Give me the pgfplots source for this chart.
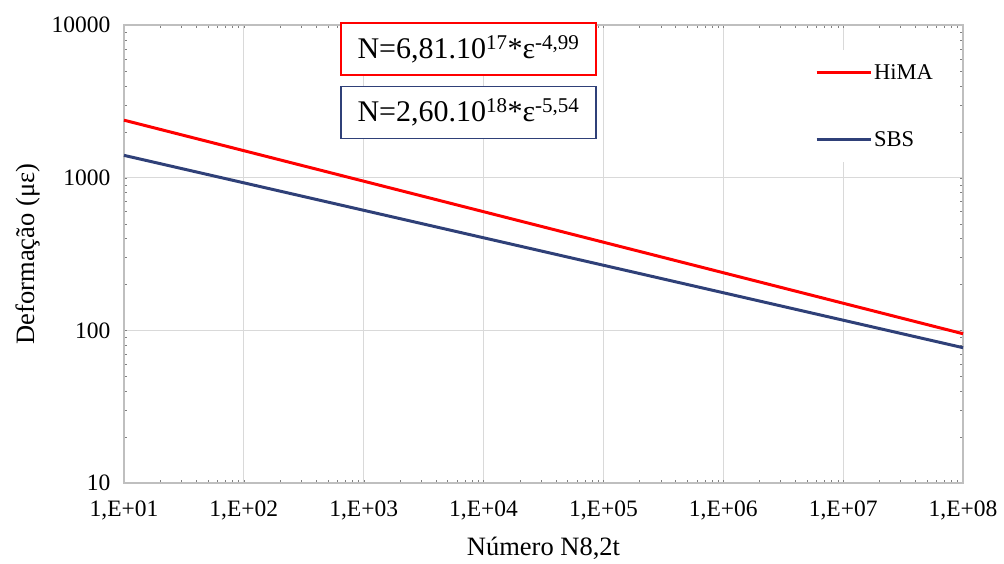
\documentclass[border=0pt]{standalone}
\usepackage{fontspec}
\setmainfont{Liberation Serif}
\usepackage{pgfplots}
\pgfplotsset{compat=1.18}
\definecolor{himared}{RGB}{255,0,0}
\definecolor{sbsblue}{RGB}{47,64,120}
\definecolor{gridgray}{RGB}{217,217,217}
\definecolor{axgray}{RGB}{191,191,191}
\newcommand{\tickfont}{\fontsize{23.5}{27}\selectfont}
\newcommand{\labfont}{\fontsize{26.5}{30}\selectfont}
\newcommand{\legfont}{\fontsize{22.5}{26}\selectfont}
\newcommand{\eqfont}{\fontsize{30}{34}\selectfont}
\begin{document}
\begin{tikzpicture}
\useasboundingbox (-124pt,-80pt) rectangle (880pt,483pt);
\begin{axis}[
scale only axis,
width=839pt,
height=458pt,
clip=false,
xmode=log, ymode=log,
xmin=10, xmax=1e8,
ymin=10, ymax=10000,
xtick={1e1,1e2,1e3,1e4,1e5,1e6,1e7,1e8},
xticklabels={{1,E+01},{1,E+02},{1,E+03},{1,E+04},{1,E+05},{1,E+06},{1,E+07},{1,E+08}},
ytick={10,100,1000,10000},
yticklabels={10,100,1000,10000},
minor xtick={}, minor ytick={},
major tick length=0pt,
tick label style={font=\tickfont},
xticklabel style={yshift=-14pt},
yticklabel style={xshift=-10pt},
grid=major,
major grid style={draw=gridgray, line width=1.2pt},
axis line style={draw=axgray, line width=1.2pt},
xlabel={Número N8,2t},
ylabel={Deformação (με)},
label style={font=\labfont},
xlabel style={at={(axis description cs:0.5,-0.142)}, anchor=center},
ylabel style={at={(axis description cs:-0.1150,0.5)}, anchor=center, rotate=0},
legend style={at={(rel axis cs:0.8117,0.945)}, anchor=north west, draw=none, fill=white,
  font=\legfont, row sep=47pt, inner xsep=10pt, inner ysep=12pt},
legend cell align=left,
legend image code/.code={\draw[#1] (0pt,0pt) -- (54pt,0pt);},
]
\addplot[himared, line width=3pt] coordinates {(10,2380) (1e8,95)};
\addlegendentry{HiMA}
\addplot[sbsblue, line width=3pt] coordinates {(10,1400) (1e8,77)};
\addlegendentry{SBS}
\node[draw=himared, line width=1.8pt, fill=white, minimum width=255pt, minimum height=52pt, inner sep=0pt, font=\eqfont]
  at (rel axis cs:0.4106,0.9476) {N=6,81.10\textsuperscript{17}*ε\textsuperscript{-4,99}};
\node[draw=sbsblue, line width=1.5pt, fill=white, minimum width=255pt, minimum height=52pt, inner sep=0pt, font=\eqfont]
  at (rel axis cs:0.4106,0.809) {N=2,60.10\textsuperscript{18}*ε\textsuperscript{-5,54}};
\end{axis}
\end{tikzpicture}
\end{document}
